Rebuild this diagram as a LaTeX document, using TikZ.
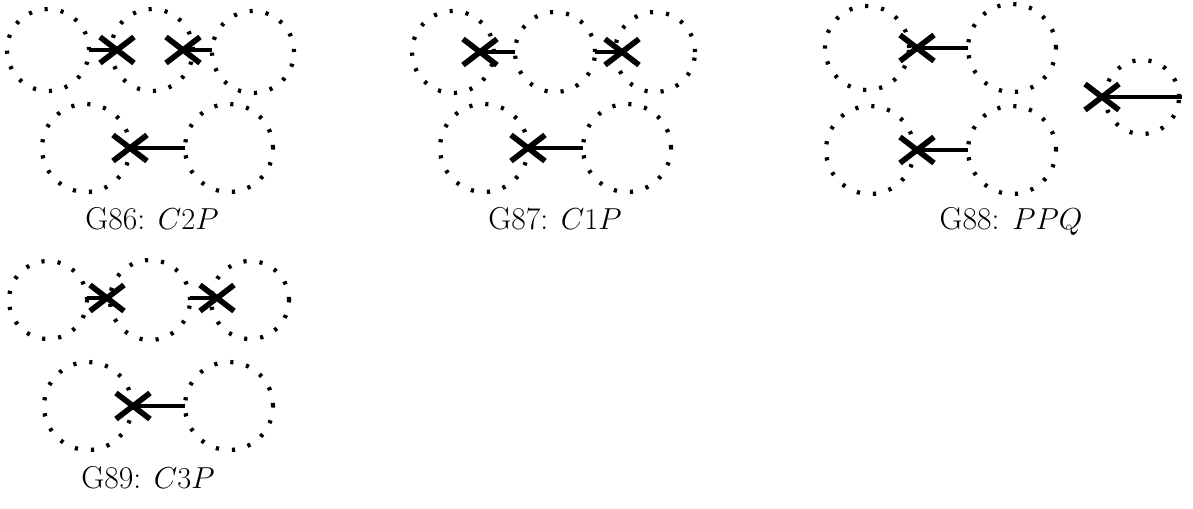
\documentclass[tikz,border=0pt]{standalone}
\usetikzlibrary{shapes.misc}
\begin{document}
\begin{tikzpicture}[x=0.02cm, y=-0.02cm,
  dotring/.style={circle, draw, line width=2.4pt, dash pattern=on 1.8pt off 7.4pt,
    minimum size=#1*0.2mm, inner sep=0pt, outer sep=0pt},
  xmark/.style={cross out, draw, line width=3.2pt, minimum width=34*0.2mm,
    minimum height=26*0.2mm, inner sep=0pt, outer sep=0pt},
  bond/.style={line width=2pt},
  caption/.style={anchor=base, font=\fontsize{18}{21}\selectfont}]
  \useasboundingbox (0,0) rectangle (1193,508);
  % G86
  \node[dotring=82] (g86a) at (48,50) {};
  \node[dotring=82] (g86b) at (152,50) {};
  \node[dotring=82] (g86c) at (253,52) {};
  \node[dotring=88] (g86d) at (86,148) {};
  \node[dotring=88] (g86e) at (229,148) {};
  \node[xmark] (x86a) at (117,50) {};
  \node[xmark] (x86b) at (183,50) {};
  \node[xmark] (x86c) at (130,148) {};
  \draw[bond] (g86a.east) -- (x86a.center);
  \draw[bond] (x86b.center) -- (g86c.west |- x86b);
  \draw[bond] (x86c.center) -- (g86e.west);
  \node[caption] (t86) at (152,229) {G86: $C2P$};
  % G87
  \node[dotring=82] (g87a) at (453,52) {};
  \node[dotring=80] (g87b) at (555,52) {};
  \node[dotring=80] (g87c) at (655,52) {};
  \node[dotring=88] (g87d) at (484,148) {};
  \node[dotring=88] (g87e) at (627,148) {};
  \node[xmark] (x87a) at (480,52) {};
  \node[xmark] (x87b) at (622,52) {};
  \node[xmark] (x87c) at (528,148) {};
  \draw[bond] (x87a.center) -- (g87b.west);
  \draw[bond] (g87b.east) -- (x87b.center);
  \draw[bond] (x87c.center) -- (g87e.west);
  \node[caption] (t87) at (555,229) {G87: $C1P$};
  % G88
  \node[dotring=84] (g88a) at (867,48) {};
  \node[dotring=88] (g88b) at (1012,48) {};
  \node[dotring=88] (g88c) at (870,150) {};
  \node[dotring=88] (g88d) at (1012,150) {};
  \node[dotring=74] (g88e) at (1142,97) {};
  \node[xmark] (x88a) at (917,48) {};
  \node[xmark] (x88b) at (917,150) {};
  \node[xmark] (x88c) at (1102,97) {};
  \coordinate (g88tip) at (1182,97);
  \draw[bond] (x88a.center) -- (g88b.west);
  \draw[bond] (x88b.center) -- (g88d.west);
  \draw[bond] (x88c.center) -- (g88tip);
  \node[caption] (t88) at (1011,229) {G88: $PPQ$};
  % G89
  \node[dotring=78] (g89a) at (48,300) {};
  \node[dotring=80] (g89b) at (150,300) {};
  \node[dotring=78] (g89c) at (250,300) {};
  \node[dotring=88] (g89d) at (88,406) {};
  \node[dotring=88] (g89e) at (229,406) {};
  \node[xmark] (x89a) at (107,298) {};
  \node[xmark] (x89b) at (217,298) {};
  \node[xmark] (x89c) at (133,406) {};
  \draw[bond] (g89a.east |- x89a) -- (x89a.center);
  \draw[bond] (g89b.east |- x89b) -- (x89b.center);
  \draw[bond] (x89c.center) -- (g89e.west);
  \node[caption] (t89) at (148,488) {G89: $C3P$};
\end{tikzpicture}
\end{document}
